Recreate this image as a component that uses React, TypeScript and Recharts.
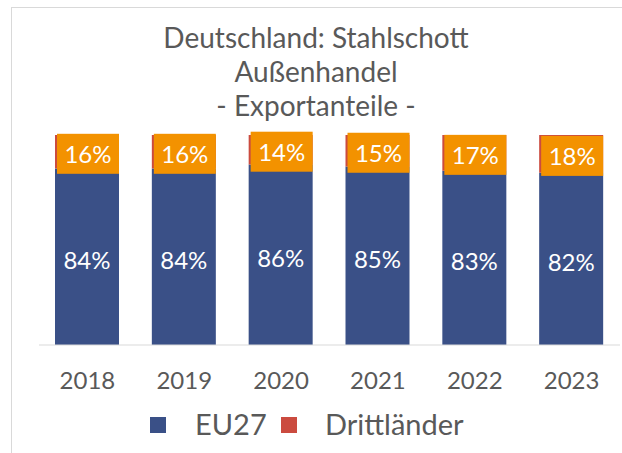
import React from "react";
import { Bar, BarChart, LabelList, XAxis, YAxis } from "recharts";

const years = ["2018", "2019", "2020", "2021", "2022", "2023"];
const eu27 = [84, 84, 86, 85, 83, 82];
const drittlaender = [16, 16, 14, 15, 17, 18];

const BLUE = "#3a5087";
const RED = "#cb4b3f";
const ORANGE = "#f39200";
const GREY = "#595959";
const FONT = "Lato, 'Noto Sans', sans-serif";

const chartData = years.map((year, i) => ({
  year,
  eu27: eu27[i],
  dritt: drittlaender[i],
}));

function OrangeLabel(props: any) {
  const { x, y, width, height, value } = props;
  const cx = x + width / 2 + 1;
  const cy = y + height / 2 + 2;
  const boxW = 62;
  const boxH = 40;
  return (
    <g>
      <rect x={cx - boxW / 2} y={cy - boxH / 2} width={boxW} height={boxH} fill={ORANGE} />
      <text
        x={cx}
        y={cy}
        textAnchor="middle"
        dominantBaseline="central"
        fill="#ffffff"
        fontSize={24}
        fontFamily={FONT}
      >
        {`${value}%`}
      </text>
    </g>
  );
}

function BlueLabel(props: any) {
  const { x, y, width, height, value } = props;
  return (
    <text
      x={x + width / 2}
      y={y + height / 2 + 3}
      textAnchor="middle"
      dominantBaseline="central"
      fill="#ffffff"
      fontSize={24}
      fontFamily={FONT}
    >
      {`${value}%`}
    </text>
  );
}

const legendText: React.CSSProperties = {
  position: "absolute",
  top: 408,
  color: GREY,
  fontSize: 29,
  lineHeight: "32px",
  whiteSpace: "nowrap",
};

export default function App() {
  return (
    <div
      style={{
        position: "absolute",
        left: 0,
        top: 0,
        width: 622,
        height: 453,
        background: "#ffffff",
        fontFamily: FONT,
      }}
    >
      <div
        style={{
          position: "absolute",
          left: 11,
          top: 7,
          width: 620,
          height: 450,
          border: "1px solid #d9d9d9",
          boxSizing: "border-box",
        }}
      />
      <div
        style={{
          position: "absolute",
          left: 116,
          top: 20,
          width: 400,
          textAlign: "center",
          color: GREY,
          fontSize: 28,
          lineHeight: "34px",
          whiteSpace: "nowrap",
        }}
      >
        <div>Deutschland: Stahlschott</div>
        <div>Außenhandel</div>
        <div>- Exportanteile -</div>
      </div>
      <div style={{ position: "absolute", left: 0, top: 0 }}>
        <BarChart
          width={622}
          height={453}
          data={chartData}
          margin={{ top: 135, right: 2, left: 39, bottom: 58 }}
          barCategoryGap={0}
        >
          <YAxis hide domain={[0, 100]} />
          <XAxis
            dataKey="year"
            height={50}
            axisLine={{ stroke: "#d9d9d9", strokeWidth: 1 }}
            tickLine={false}
            tick={{ fill: GREY, fontSize: 24, fontFamily: FONT }}
            tickMargin={21}
          />
          <Bar dataKey="eu27" stackId="a" fill={BLUE} barSize={64} isAnimationActive={false}>
            <LabelList dataKey="eu27" content={<BlueLabel />} />
          </Bar>
          <Bar dataKey="dritt" stackId="a" fill={RED} barSize={64} isAnimationActive={false}>
            <LabelList dataKey="dritt" content={<OrangeLabel />} />
          </Bar>
        </BarChart>
      </div>
      <span style={{ position: "absolute", left: 150, top: 417, width: 16, height: 16, background: BLUE }} />
      <span style={{ ...legendText, left: 195 }}>EU27</span>
      <span style={{ position: "absolute", left: 281, top: 417, width: 16, height: 16, background: RED }} />
      <span style={{ ...legendText, left: 325 }}>Drittländer</span>
    </div>
  );
}
